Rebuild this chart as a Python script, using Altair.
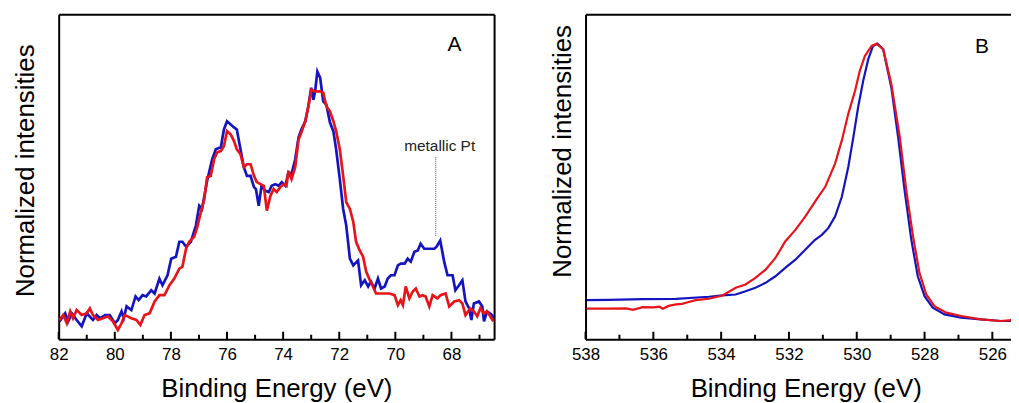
import altair as alt
import pandas as pd

# ---------------- Panel A (Pt 4f) ----------------
a_blue_e = [81.97, 81.77, 81.66, 81.53, 81.36, 81.18, 81.0, 80.78, 80.65, 80.53,
            80.35, 80.18, 80.0, 79.89, 79.76, 79.68, 79.58, 79.41, 79.26, 79.15,
            79.01, 78.88, 78.70, 78.58, 78.41, 78.30, 78.12, 77.99, 77.82, 77.70,
            77.59, 77.46, 77.29, 77.11, 76.99, 76.89, 76.71, 76.53, 76.40, 76.22,
            76.11, 76.0, 75.87, 75.75, 75.65, 75.52, 75.40, 75.29, 75.16, 75.04,
            74.97, 74.87, 74.77, 74.63, 74.51, 74.41, 74.28, 74.16, 74.05, 73.92,
            73.81, 73.70, 73.57, 73.45, 73.35, 73.21, 73.10, 73.00, 72.92, 72.86,
            72.78, 72.68, 72.57, 72.46, 72.33, 72.21, 72.11, 71.98, 71.86, 71.75,
            71.62, 71.50, 71.33, 71.22, 71.09, 70.97, 70.87, 70.74, 70.62, 70.51,
            70.38, 70.27, 70.16, 70.03, 69.91, 69.81, 69.67, 69.56, 69.45, 69.32,
            69.20, 69.10, 68.97, 68.85, 68.74, 68.61, 68.53, 68.40, 68.26, 68.14,
            67.96, 67.86, 67.73, 67.61, 67.50, 67.37, 67.29, 67.20, 67.02, 66.90,
            66.84, 66.73, 66.55, 66.49]
a_blue_i = [17.7, 26, 18, 26, 19.3, 13, 26, 19.3, 24.3, 21,
            24.3, 24.3, 16, 19.3, 28, 21, 33, 29.3, 43, 39.3,
            44.3, 43, 49.3, 46, 61, 54.3, 64.3, 81, 83, 98,
            98, 93, 98, 114.3, 134.3, 131, 159.3, 181, 191, 193,
            211, 219.3, 216, 213, 211, 191, 173, 164.3, 164.3, 153,
            151, 134.3, 154.3, 149.3, 148, 154.3, 156, 154.3, 158, 154.3,
            168, 166, 181, 203, 211, 219.3, 234.3, 253, 241, 249.3,
            269.3, 263, 239.3, 236, 218, 209.3, 191, 161, 131, 114.3,
            81, 74.3, 79.3, 54.3, 59.3, 53, 58, 51, 61, 51,
            53, 61, 64.3, 64.3, 74.3, 76, 76, 81, 78, 88,
            89.3, 96, 91, 91, 91, 91, 93, 99.3, 78, 64.3,
            64.3, 49.3, 54.3, 59.3, 38, 31, 19.3, 36, 38, 33,
            18, 28, 24.3, 18]

a_red_e = [81.97, 81.84, 81.71, 81.59, 81.49, 81.36, 81.18, 81.0, 80.89, 80.78,
           80.60, 80.42, 80.25, 80.07, 79.89, 79.76, 79.65, 79.54, 79.41, 79.23,
           79.09, 78.94, 78.76, 78.58, 78.41, 78.23, 78.05, 77.88, 77.70, 77.59,
           77.46, 77.35, 77.17, 77.06, 76.93, 76.81, 76.71, 76.58, 76.46, 76.35,
           76.22, 76.11, 76.0, 75.87, 75.75, 75.65, 75.52, 75.40, 75.29, 75.16,
           75.04, 74.94, 74.81, 74.69, 74.58, 74.45, 74.34, 74.23, 74.10, 73.98,
           73.88, 73.81, 73.70, 73.57, 73.45, 73.35, 73.21, 73.10, 72.99, 72.86,
           72.68, 72.57, 72.46, 72.33, 72.21, 72.11, 71.98, 71.86, 71.75, 71.62,
           71.50, 71.40, 71.27, 71.15, 71.04, 70.91, 70.80, 70.69, 70.56, 70.38,
           70.21, 70.03, 69.91, 69.81, 69.73, 69.63, 69.50, 69.38, 69.27, 69.14,
           69.03, 68.92, 68.79, 68.67, 68.50, 68.39, 68.21, 68.08, 67.90, 67.73,
           67.61, 67.50, 67.33, 67.20, 67.08, 66.97, 66.84, 66.73, 66.62, 66.51]
a_red_i = [19.3, 24.3, 16, 28, 21, 29.3, 24.3, 26, 31, 24.3,
           19.3, 21, 23, 18, 9.3, 16, 24.3, 23, 21, 19.3,
           14.3, 24.3, 26, 38, 44.3, 44.3, 54.3, 61, 71, 73,
           91, 98, 103, 113, 128, 141, 163, 164.3, 181, 188,
           189.3, 194.3, 209.3, 206, 199.3, 191, 186, 173, 176, 176,
           164.3, 158, 156, 154.3, 129.3, 144.3, 151, 148, 153, 156,
           154.3, 169.3, 161, 173, 201, 208, 219.3, 234.3, 251, 249.3,
           249.3, 248, 234.3, 229.3, 219.3, 209.3, 191, 164.3, 138, 131,
           118, 98, 89.3, 83, 68, 59.3, 53, 46, 46, 46,
           46, 44.3, 34.3, 39.3, 34.3, 53, 41, 48, 51, 43,
           44.3, 43, 33, 44.3, 41, 44.3, 46, 33, 38, 39.3,
           36, 24.3, 31, 28, 23, 31, 26, 28, 23, 18]

# ---------------- Panel B (O 1s) ----------------
b_blue_e = [537.97, 537.30, 536.31, 535.33, 534.36, 533.96, 533.57, 533.28, 532.99, 532.69,
            532.40, 532.11, 531.81, 531.52, 531.23, 531.03, 530.84, 530.64, 530.44, 530.25,
            530.10, 529.96, 529.81, 529.66, 529.52, 529.39, 529.22, 528.98, 528.78, 528.59,
            528.39, 528.20, 528.00, 527.76, 527.41, 526.92, 526.34, 525.75, 525.42]
b_blue_i = [39.3, 39.5, 40.3, 40.5, 42.7, 44, 45, 48.3, 51.7, 56.7,
            63.3, 71.7, 80, 90, 100, 105, 111.7, 123.3, 143.3, 173.3,
            203.3, 233.3, 260, 281.7, 295, 297.3, 291.7, 253.3, 203.3, 150,
            100, 63.3, 43.3, 31.7, 25, 21.7, 20, 18.3, 18.3]

b_red_e = [537.97, 537.29, 536.80, 536.6, 536.31, 536.0, 535.82, 535.72, 535.55, 535.33,
           535.15, 535.04, 534.75, 534.36, 533.96, 533.57, 533.28, 532.99, 532.69, 532.40,
           532.11, 531.81, 531.52, 531.23, 530.93, 530.64, 530.44, 530.25, 530.05, 529.91,
           529.76, 529.56, 529.42, 529.22, 528.98, 528.73, 528.54, 528.34, 528.15, 527.95,
           527.71, 527.36, 526.92, 526.34, 525.75, 525.42]
b_red_i = [30.7, 30.7, 31, 29.5, 32.3, 32, 32.7, 30.7, 33.5, 35,
           35.5, 36.7, 39.3, 40.7, 44, 51.7, 55, 61.7, 70, 81.7,
           98.3, 110, 123.3, 138.3, 153.3, 176.7, 200, 226.7, 250, 270,
           285, 295, 297.3, 291.7, 256.7, 203.3, 150, 103.3, 66.7, 45,
           33.3, 26.7, 23.3, 20, 18.3, 19.3]

# ticks (positions and inward length in intensity units)
a_major = [82, 80, 78, 76, 74, 72, 70, 68]
a_minor = [81, 79, 77, 75, 73, 71, 69, 67]
b_major = [538, 536, 534, 532, 530, 528, 526]
b_minor = [537, 535, 533, 531, 529, 527]
MAJOR_LEN = 7.5
MINOR_LEN = 4.5

# annotations
a_letter = {"E": [67.89], "I": [295.8], "t": ["A"]}
b_letter = {"E": [526.31], "I": [294.2], "t": ["B"]}
pt_label = {"E": [68.42], "I": [189.0], "t": ["metallic Pt"]}
pt_line = {"E": [68.56], "I1": [104.0], "I2": [184.0]}

FONT = "Liberation Sans"
BLUE = "#1414c0"
RED = "#e81419"
H = 327
YMAX = 327


def frame_axis(orient):
    return alt.Axis(orient=orient, labels=False, ticks=False, grid=False,
                    domain=True, domainColor="black", domainWidth=2)


def make_panel(blue_e, blue_i, red_e, red_i, xdom, width, major, minor,
               letter, ytitle_y, ytitle_pad, xtitle_x, right_frame, lw, extra_fn=None):
    xs = alt.Scale(domain=xdom, nice=False, zero=False)
    ys = alt.Scale(domain=[0, YMAX], nice=False, zero=False)
    bottom_kw = dict(orient="bottom", values=major, ticks=False, grid=False,
                     domain=True, domainColor="black", domainWidth=2,
                     labelFontSize=17, labelColor="black", labelPadding=7,
                     labelFlush=False, labelFont=FONT,
                     titleFontSize=26, titleFontWeight="normal",
                     titleColor="black", titleFont=FONT, titlePadding=14)
    if xtitle_x is not None:
        bottom_kw["titleX"] = xtitle_x
    left_axis = alt.Axis(orient="left", labels=False, ticks=False, grid=False,
                         domain=True, domainColor="black", domainWidth=2,
                         titleFontSize=26, titleFontWeight="normal",
                         titleColor="black", titleFont=FONT,
                         titlePadding=ytitle_pad, titleY=ytitle_y)

    blue = alt.Chart(pd.DataFrame({"E": blue_e, "I": blue_i})).mark_line(
        color=BLUE, strokeWidth=lw, clip=True).encode(
        x=alt.X("E:Q", scale=xs, axis=alt.Axis(**bottom_kw), title="Binding Energy (eV)"),
        y=alt.Y("I:Q", scale=ys, axis=left_axis, title="Normalized intensities"))
    red = alt.Chart(pd.DataFrame({"E": red_e, "I": red_i})).mark_line(
        color=RED, strokeWidth=lw, clip=True).encode(
        x=alt.X("E:Q", scale=xs, axis=None),
        y=alt.Y("I:Q", scale=ys, axis=None))
    tick_df = pd.DataFrame({
        "E": [float(v) for v in list(major) + list(minor)],
        "lo": [0.0] * (len(major) + len(minor)),
        "hi": [MAJOR_LEN] * len(major) + [MINOR_LEN] * len(minor),
    })
    ticks = alt.Chart(tick_df).mark_rule(color="black", strokeWidth=2).encode(
        x=alt.X("E:Q", scale=xs, axis=None),
        y=alt.Y("lo:Q", scale=ys, axis=None), y2="hi:Q")
    if right_frame:
        yax = frame_axis("right")
    else:
        yax = None
    lab = alt.Chart(pd.DataFrame(letter)).mark_text(
        fontSize=21, font=FONT, color="black", align="center", baseline="middle").encode(
        x=alt.X("E:Q", scale=xs, axis=frame_axis("top"), title=None),
        y=alt.Y("I:Q", scale=ys, axis=yax, title=None),
        text="t:N")
    layers = [blue, red, ticks, lab]
    if extra_fn is not None:
        layers += extra_fn(xs, ys)
    return alt.layer(*layers).resolve_axis(x="independent", y="independent").properties(
        width=width, height=H)


def pt_extras(xs, ys):
    rule = alt.Chart(pd.DataFrame(pt_line)).mark_rule(
        color="#555555", strokeWidth=1, strokeDash=[1, 1]).encode(
        x=alt.X("E:Q", scale=xs, axis=None),
        y=alt.Y("I1:Q", scale=ys, axis=None), y2="I2:Q")
    txt = alt.Chart(pd.DataFrame(pt_label)).mark_text(
        fontSize=15.5, font=FONT, color="#222222", align="center",
        baseline="alphabetic").encode(
        x=alt.X("E:Q", scale=xs, axis=None),
        y=alt.Y("I:Q", scale=ys, axis=None), text="t:N")
    return [rule, txt]


panel_a = make_panel(a_blue_e, a_blue_i, a_red_e, a_red_i, [82, 66.48], 438,
                     a_major, a_minor, a_letter, 157, 20, None, True, 2.7, pt_extras)
panel_b = make_panel(b_blue_e, b_blue_i, b_red_e, b_red_i, [538, 525.45], 428,
                     b_major, b_minor, b_letter, 137.5, 10, 221.5, False, 2.2)

chart = alt.hconcat(panel_a, panel_b, spacing=55).properties(
    padding={"left": 5, "top": 5, "right": 0, "bottom": 0}
).configure(font=FONT).configure_view(stroke=None)

chart.save("out.html", embed_options={"renderer": "svg", "actions": False})
